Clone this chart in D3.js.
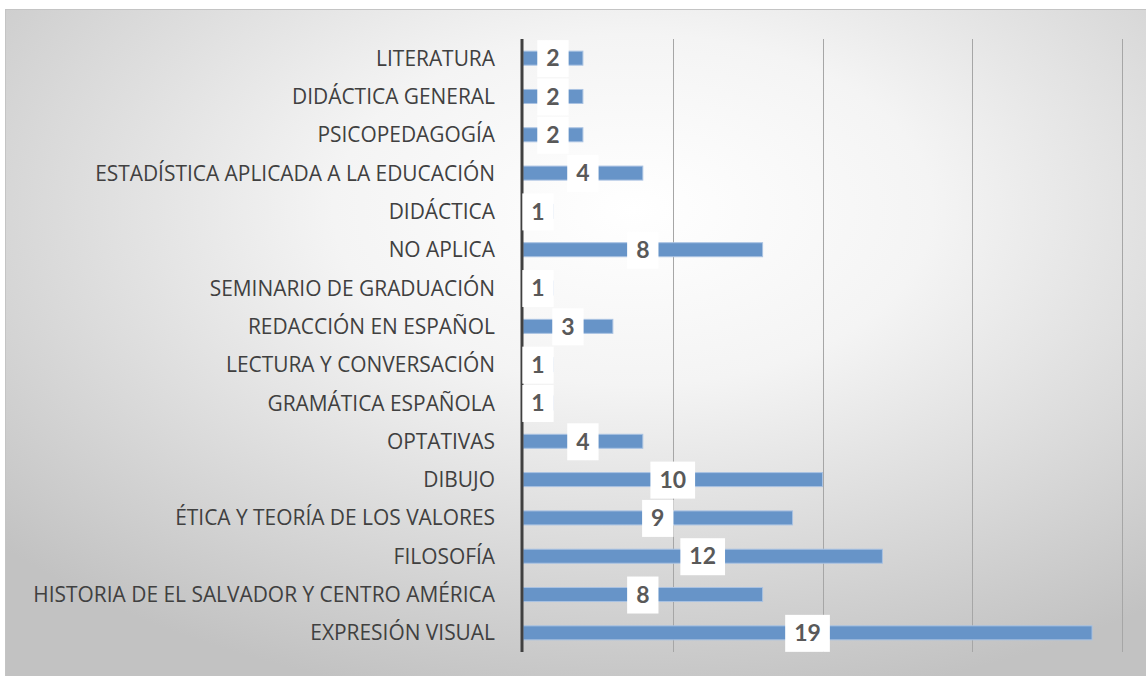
<!DOCTYPE html>
<html><head><meta charset="utf-8">
<script src="https://cdn.jsdelivr.net/npm/d3@7"></script>
<style>html,body{margin:0;padding:0;background:#fff;}</style>
</head><body>
<script>
const categories = ["LITERATURA","DIDÁCTICA GENERAL","PSICOPEDAGOGÍA","ESTADÍSTICA APLICADA A LA EDUCACIÓN","DIDÁCTICA","NO APLICA","SEMINARIO DE GRADUACIÓN","REDACCIÓN EN ESPAÑOL","LECTURA Y CONVERSACIÓN","GRAMÁTICA ESPAÑOLA","OPTATIVAS","DIBUJO","ÉTICA Y TEORÍA DE LOS VALORES","FILOSOFÍA","HISTORIA DE EL SALVADOR Y CENTRO AMÉRICA","EXPRESIÓN VISUAL"];
const values = [2,2,2,4,1,8,1,3,1,1,4,10,9,12,8,19];
const xTicks = [0,5,10,15,20];

const W = 1146, H = 676;
const svg = d3.select("body").append("svg").attr("width", W).attr("height", H)
  .style("font-family", "'Open Sans', Lato, sans-serif");
const defs = svg.append("defs");
const g = defs.append("radialGradient").attr("id","bg").attr("cx","0.55").attr("cy","0.3").attr("r","0.75");
g.append("stop").attr("offset","0").attr("stop-color","#ffffff");
g.append("stop").attr("offset","0.35").attr("stop-color","#f4f4f4");
g.append("stop").attr("offset","1").attr("stop-color","#c2c2c2");

svg.append("rect").attr("x",5.5).attr("y",9.5).attr("width",W-5).attr("height",H-9)
  .attr("fill","url(#bg)").attr("stroke","#c4c4c4").attr("stroke-width",1);

const x = d3.scaleLinear().domain([0,20]).range([523,1122]);
const y = d3.scaleBand().domain(categories).range([39,652]).paddingInner(0).paddingOuter(0);

// gridlines
svg.append("g").selectAll("line").data(xTicks.slice(1)).join("line")
  .attr("x1", d=>Math.round(x(d))+0.5).attr("x2", d=>Math.round(x(d))+0.5)
  .attr("y1", 39).attr("y2", 652).attr("stroke","#a6a6a6").attr("stroke-width",1);

// bars
const bh = 14;
svg.append("g").selectAll("rect").data(categories).join("rect")
  .attr("x", x(0)).attr("y", (d)=>y(d)+y.bandwidth()/2-bh/2)
  .attr("width", (d,i)=>x(values[i])-x(0)).attr("height", bh)
  .attr("fill","#6794c8").attr("stroke","#a9c2e2").attr("stroke-width",1);

// axis line
svg.append("line").attr("x1",522).attr("x2",522).attr("y1",39).attr("y2",652)
  .attr("stroke","#404040").attr("stroke-width",3);

// category labels
const labs = svg.append("g").selectAll("text").data(categories).join("text")
  .attr("x", 495).attr("y", d=>y(d)+y.bandwidth()/2).attr("dy","0.36em")
  .attr("text-anchor","end").attr("font-size",18).attr("fill","#404040")
  .text(d=>d);
// fit font size so the longest label spans like the reference
const longest = d3.max(labs.nodes(), n=>n.getComputedTextLength());
const fs = 18 * 462 / longest;
labs.attr("font-size", fs);

// value labels
const lg = svg.append("g");
categories.forEach((c,i)=>{
  const cx = (x(0)+x(values[i]))/2, cy = y(c)+y.bandwidth()/2;
  const t = lg.append("text").attr("x",cx).attr("y",cy).attr("dy","0.36em")
    .attr("text-anchor","middle").attr("font-size",23).attr("font-weight","bold")
    .attr("fill","#595959").style("font-family","Lato, sans-serif").text(values[i]);
  const bw = t.node().getComputedTextLength() + 18;
  lg.insert("rect","text").attr("x",cx-bw/2).attr("y",cy-18).attr("width",bw).attr("height",37).attr("fill","#fff");
});
</script>
</body></html>
